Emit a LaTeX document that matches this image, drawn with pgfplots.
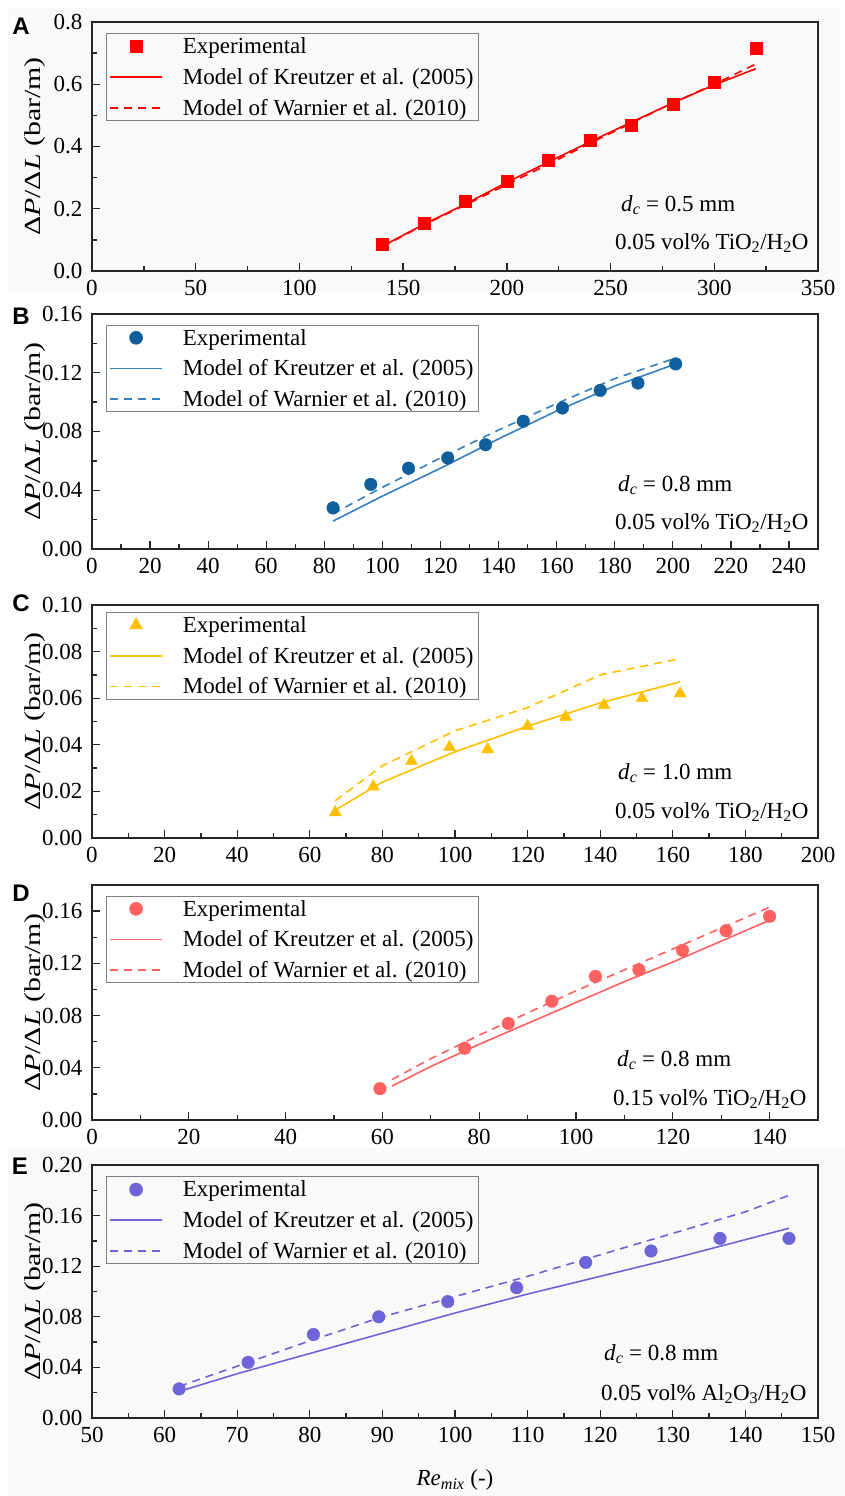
\documentclass[border=0pt]{standalone}
\usepackage{fontspec}
\setmainfont{Liberation Serif}
\newfontfamily\tnr{Liberation Serif}
\newfontfamily\letterfont{Liberation Sans}
\usepackage{graphicx}
\usepackage{pgfplots}
\pgfplotsset{compat=1.18}

\definecolor{cA}{RGB}{255,0,0}
\definecolor{cBm}{RGB}{16,94,156}
\definecolor{cBl}{RGB}{52,128,192}
\definecolor{cC}{RGB}{255,192,0}
\definecolor{cD}{RGB}{255,96,96}
\definecolor{cE}{RGB}{110,100,215}

\newcommand{\bigfont}{\tnr\fontsize{23}{27}\selectfont}

\pgfplotsset{
  panel/.style={
    scale only axis, width=726pt, anchor=north west,
    tick align=inside, tick pos=left,
    axis line style={line width=1.5pt, draw=black!85},
    major tick length=8pt, minor tick length=5pt,
    every tick/.append style={line width=1.3pt, black!85},
    tick label style={font=\bigfont},
    /pgf/number format/assume math mode=true,
    yticklabel style={xshift=-6pt, /pgf/number format/fixed, /pgf/number format/fixed zerofill, /pgf/number format/precision=2},
    xticklabel style={yshift=-6pt, /pgf/number format/fixed, /pgf/number format/precision=0},
    scaled ticks=false,
    ylabel={\scalebox{1.3}[1]{\tnr Δ\textit{P}/Δ\textit{L} (bar/m)}},
    ylabel style={at={(axis description cs:-0.078,0.5)}, anchor=center, font=\bigfont},
    legend style={at={(axis description cs:0.019,0.955)}, anchor=north west,
      draw=gray, line width=1pt, fill=none, font=\bigfont,
      inner xsep=3pt, inner ysep=2pt, row sep=9pt,
      /tikz/every odd column/.append style={column sep=18pt}},
    legend cell align=left,
    legend image code/.code={\draw[mark repeat=2,mark phase=2,#1] plot coordinates {(0pt,0pt) (26pt,0pt) (52pt,0pt)};},
  },
  kr/.style={line width=1.6pt, mark=none},
  wa/.style={line width=1.6pt, mark=none, dash pattern=on 8pt off 6pt},
}

\begin{document}
\begin{tikzpicture}[x=1pt,y=1pt]
\path[use as bounding box, fill=white] (0,0) rectangle (845,-1496);
\fill[gray!5] (8,-8) rectangle (840,-292);
\fill[gray!5] (8,-1148) rectangle (845,-1496);

% ---- A ----
\begin{axis}[panel, at={(92pt,-22pt)}, height=249pt,
  xmin=0, xmax=350, ymin=0, ymax=0.8,
  xtick={0,50,...,350}, minor x tick num=1,
  ytick={0,0.2,0.4,0.6,0.8}, minor y tick num=1,
  yticklabel style={/pgf/number format/precision=1}]
\addplot[only marks, mark=square*, mark size=6pt, color=cA] coordinates {
  (140,0.085) (160,0.155) (180,0.225) (200,0.29) (220,0.355)
  (240,0.42) (260,0.467) (280,0.537) (300,0.607) (320,0.717)};
\addlegendentry{Experimental}
\addplot[kr, color=cA] coordinates {
  (140,0.08) (160,0.15) (180,0.215) (200,0.285) (220,0.35)
  (240,0.415) (260,0.478) (280,0.54) (300,0.598) (320,0.65)};
\addlegendentry{Model of Kreutzer et al. (2005)}
\addplot[wa, color=cA] coordinates {
  (140,0.078) (160,0.148) (180,0.212) (200,0.278) (220,0.343)
  (240,0.41) (260,0.475) (280,0.54) (300,0.60) (320,0.665)};
\addlegendentry{Model of Warnier et al. (2010)}
\end{axis}

% ---- B ----
\begin{axis}[panel, at={(92pt,-314pt)}, height=235pt,
  xmin=0, xmax=250, ymin=0, ymax=0.16,
  xtick={0,20,...,240}, minor x tick num=1,
  ytick={0,0.04,0.08,0.12,0.16}, minor y tick num=1]
\addplot[only marks, mark=*, mark size=6.3pt, color=cBm] coordinates {
  (83,0.028) (96,0.044) (109,0.055) (122.5,0.062) (135.5,0.071)
  (148.5,0.087) (162,0.096) (175,0.108) (188,0.113) (201,0.126)};
\addlegendentry{Experimental}
\addplot[kr, color=cBl] coordinates {
  (83,0.019) (100,0.036) (120,0.055) (140,0.075) (160,0.094) (180,0.111) (201,0.126)};
\addlegendentry{Model of Kreutzer et al. (2005)}
\addplot[wa, color=cBl] coordinates {
  (83,0.024) (100,0.042) (120,0.062) (140,0.081) (160,0.099) (180,0.116) (201,0.130)};
\addlegendentry{Model of Warnier et al. (2010)}
\end{axis}

% ---- C ----
\begin{axis}[panel, at={(92pt,-605pt)}, height=233pt,
  xmin=0, xmax=200, ymin=0, ymax=0.10,
  xtick={0,20,...,200}, minor x tick num=1,
  ytick={0,0.02,0.04,0.06,0.08,0.10}, minor y tick num=1,
  legend style={at={(axis description cs:0.019,0.97)}}]
\addplot[only marks, mark=triangle*, mark size=7pt, color=cC] coordinates {
  (67,0.011) (77.5,0.022) (88,0.033) (98.5,0.039) (109,0.038)
  (120,0.048) (130.5,0.052) (141,0.057) (151.5,0.060) (162,0.062)};
\addlegendentry{Experimental}
\addplot[kr, color=cC] coordinates {
  (67,0.012) (80,0.024) (100,0.037) (120,0.048) (140,0.058) (162,0.067)};
\addlegendentry{Model of Kreutzer et al. (2005)}
\addplot[wa, color=cC] coordinates {
  (67,0.016) (80,0.031) (100,0.046) (120,0.056) (140,0.070) (162,0.077)};
\addlegendentry{Model of Warnier et al. (2010)}
\end{axis}

% ---- D ----
\begin{axis}[panel, at={(92pt,-885pt)}, height=235pt,
  xmin=0, xmax=150, ymin=0, ymax=0.18,
  xtick={0,20,...,140}, minor x tick num=1,
  ytick={0,0.04,0.08,0.12,0.16}, minor ytick={0.02,0.06,0.10,0.14,0.18}]
\addplot[only marks, mark=*, mark size=6.3pt, color=cD] coordinates {
  (59.5,0.024) (77,0.055) (86,0.074) (95,0.091) (104,0.110)
  (113,0.115) (122,0.130) (131,0.145) (140,0.156)};
\addlegendentry{Experimental}
\addplot[kr, color=cD] coordinates {
  (62,0.026) (70,0.041) (80,0.058) (90,0.074) (100,0.090)
  (110,0.106) (120,0.121) (130,0.137) (140,0.153)};
\addlegendentry{Model of Kreutzer et al. (2005)}
\addplot[wa, color=cD] coordinates {
  (62,0.031) (70,0.047) (80,0.065) (90,0.082) (100,0.099)
  (110,0.115) (120,0.131) (130,0.147) (140,0.163)};
\addlegendentry{Model of Warnier et al. (2010)}
\end{axis}

% ---- E ----
\begin{axis}[panel, at={(92pt,-1165pt)}, height=253pt,
  xmin=50, xmax=150, ymin=0, ymax=0.20,
  xtick={50,60,...,150}, minor x tick num=1,
  ytick={0,0.04,0.08,0.12,0.16,0.20}, minor y tick num=1,
  xlabel={\textit{Re}\textsubscript{\textit{mix}} (-)},
  xlabel style={at={(axis description cs:0.5,-0.245)}, anchor=center, font=\bigfont}]
\addplot[only marks, mark=*, mark size=6.3pt, color=cE] coordinates {
  (62,0.023) (71.5,0.044) (80.5,0.066) (89.5,0.080) (99,0.092)
  (108.5,0.103) (118,0.123) (127,0.132) (136.5,0.142) (146,0.142)};
\addlegendentry{Experimental}
\addplot[kr, color=cE] coordinates {
  (62,0.021) (70,0.035) (80,0.051) (90,0.067) (100,0.083)
  (110,0.098) (120,0.112) (130,0.126) (146,0.150)};
\addlegendentry{Model of Kreutzer et al. (2005)}
\addplot[wa, color=cE] coordinates {
  (62,0.025) (71,0.043) (80,0.061) (90,0.080) (100,0.096)
  (110,0.112) (120,0.129) (130,0.146) (140,0.163) (146,0.176)};
\addlegendentry{Model of Warnier et al. (2010)}
\end{axis}

% annotations
\begin{scope}[every node/.style={anchor=base west, font=\bigfont, inner sep=0pt}]
\node at (621,-211) {\textit{d}\textsubscript{\textit{c}} = 0.5 mm};
\node at (615,-249) {0.05 vol\% TiO\textsubscript{2}/H\textsubscript{2}O};
\node at (618,-491) {\textit{d}\textsubscript{\textit{c}} = 0.8 mm};
\node at (615,-529) {0.05 vol\% TiO\textsubscript{2}/H\textsubscript{2}O};
\node at (618,-779) {\textit{d}\textsubscript{\textit{c}} = 1.0 mm};
\node at (615,-818) {0.05 vol\% TiO\textsubscript{2}/H\textsubscript{2}O};
\node at (617,-1066) {\textit{d}\textsubscript{\textit{c}} = 0.8 mm};
\node at (613,-1105) {0.15 vol\% TiO\textsubscript{2}/H\textsubscript{2}O};
\node at (604,-1360) {\textit{d}\textsubscript{\textit{c}} = 0.8 mm};
\node at (601,-1400) {0.05 vol\% Al\textsubscript{2}O\textsubscript{3}/H\textsubscript{2}O};
\end{scope}

% panel letters
\begin{scope}[every node/.style={font=\letterfont\bfseries\fontsize{24}{28}\selectfont, fill=white, inner sep=2pt}]
\node at (21,-26) {A};
\node at (21,-316) {B};
\node at (21,-603) {C};
\node at (21,-893) {D};
\node at (20,-1166) {E};
\end{scope}
\end{tikzpicture}
\end{document}
